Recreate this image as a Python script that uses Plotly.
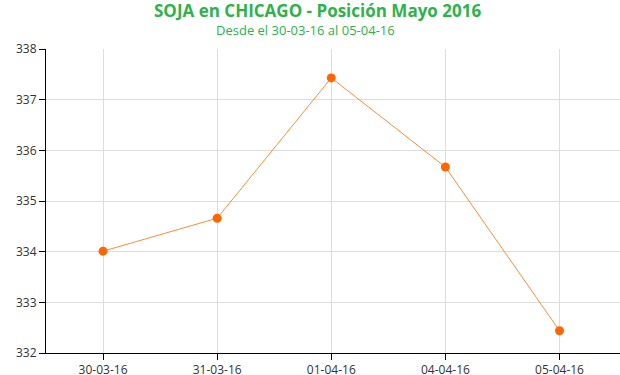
import plotly.graph_objects as go

fechas = ["30-03-16", "31-03-16", "01-04-16", "04-04-16", "05-04-16"]
precios = [334.01, 334.66, 337.43, 335.67, 332.44]
y_ticks = [332, 333, 334, 335, 336, 337, 338]

fig = go.Figure()
fig.add_trace(go.Scatter(
    x=list(range(len(fechas))), y=precios, mode="lines+markers",
    line=dict(color="#FF8C3A", width=1),
    marker=dict(color="#FF6600", size=9),
    hoverinfo="skip",
))

fig.update_layout(
    width=620, height=375,
    margin=dict(l=46, r=0, t=49, b=22, autoexpand=False),
    paper_bgcolor="white", plot_bgcolor="white",
    showlegend=False,
    font=dict(family="Open Sans, sans-serif", size=12, color="#333333"),
    xaxis=dict(
        range=[-0.5, 4.53], tickmode="array", tickvals=list(range(len(fechas))),
        ticktext=fechas, showgrid=True, gridcolor="#DDDDDD", gridwidth=1,
        showline=True, linecolor="#000000", linewidth=1,
        ticks="outside", ticklen=6, tickcolor="#000000",
        zeroline=False, fixedrange=True, automargin=False,
    ),
    yaxis=dict(
        range=[332, 338], tickvals=y_ticks, showgrid=True, gridcolor="#DDDDDD",
        showline=True, linecolor="#000000", linewidth=1,
        ticks="outside", ticklen=6, tickcolor="#000000",
        zeroline=False, fixedrange=True, automargin=False,
    ),
    annotations=[
        dict(text="<b>SOJA en CHICAGO - Posición Mayo 2016</b>", x=0.4735, y=1.128,
             xref="paper", yref="paper", yanchor="middle",
             showarrow=False, font=dict(size=17, color="#2DB34A", family="Open Sans, sans-serif")),
        dict(text="Desde el 30-03-16 al 05-04-16", x=0.4525, y=1.064, xref="paper",
             yref="paper", yanchor="middle", showarrow=False,
             font=dict(size=13, color="#2DB34A", family="Open Sans, sans-serif")),
    ],
)

fig.write_html("out.html", config={"displayModeBar": False},
               post_script="document.body.style.margin='0';document.body.style.padding='0';")
